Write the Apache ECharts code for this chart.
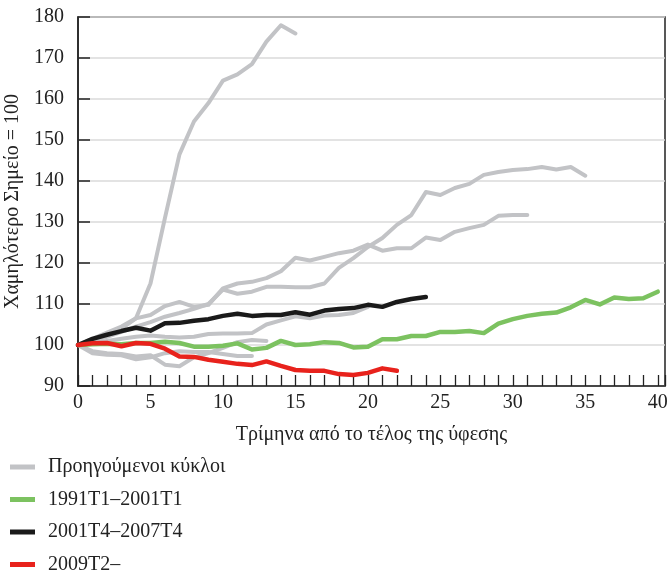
<!DOCTYPE html>
<html>
<head>
<meta charset="utf-8">
<script src="https://cdn.jsdelivr.net/npm/echarts@6/dist/echarts.min.js"></script>
<style>
  html, body { margin: 0; padding: 0; background: #fff; }
  #chart { width: 670px; height: 570px; }
</style>
</head>
<body>
<div id="chart"></div>
<script>
// legend names
const namePrev = "Προηγούμενοι κύκλοι";
const name1991 = "1991T1–2001T1";
const name2001 = "2001T4–2007T4";
const name2009 = "2009T2–";

// previous cycles (grey), value per quarter starting at 0
const prevCycleA = [100, 101, 102.5, 104, 106.5, 115, 131, 146.5, 154.5, 159, 164.5, 166, 168.5, 174, 178, 176];
const prevCycleB = [100, 101.5, 103, 104.5, 106.5, 107.3, 109.5, 110.5, 109.3, 109.8, 113.8, 115, 115.4, 116.3, 118, 121.3,
  120.6, 121.5, 122.4, 123, 124.5, 123, 123.6, 123.6, 126.2, 125.6, 127.6, 128.5, 129.3, 131.5, 131.7, 131.7];
const prevCycleC = [100, 101, 102, 103.2, 104.5, 105.6, 106.9, 107.8, 108.8, 110, 113.5, 112.5, 113, 114.2, 114.2, 114.1,
  114.1, 115, 118.8, 121.2, 123.9, 126.1, 129.3, 131.7, 137.3, 136.6, 138.3, 139.3, 141.5, 142.2, 142.7, 142.9, 143.4, 142.8, 143.4, 141.3];
const prevCycleD = [100, 100.5, 101, 101.5, 102, 102.3, 102, 101.8, 102, 102.7, 102.8, 102.8, 102.9, 105, 106, 107,
  106.5, 107.2, 107.3, 107.8, 109.3];
const prevCycleE = [100, 98.5, 98, 97.8, 97.2, 97.5, 95.2, 94.8, 97, 98, 99.3, 100.7, 101.2, 101];
const prevCycleF = [100, 98, 97.6, 97.5, 96.5, 97, 98, 98.5, 98.3, 98.3, 97.8, 97.3, 97.3];

const cycle1991 = [100, 100.2, 100.3, 100.2, 100.5, 100.5, 100.8, 100.5, 99.6, 99.6, 99.8, 100.4, 98.9, 99.3, 101, 100,
  100.2, 100.7, 100.5, 99.4, 99.6, 101.4, 101.4, 102.2, 102.2, 103.2, 103.2, 103.4, 102.9, 105.2, 106.3, 107.1, 107.6,
  107.9, 109.2, 111, 109.9, 111.6, 111.2, 111.4, 113];
const cycle2001 = [100, 101.5, 102.5, 103.4, 104.2, 103.5, 105.3, 105.4, 105.9, 106.3, 107.1, 107.6, 107.1, 107.3, 107.3,
  108, 107.4, 108.4, 108.8, 109, 109.8, 109.3, 110.5, 111.2, 111.7];
const cycle2009 = [100, 100.4, 100.5, 99.7, 100.5, 100.3, 99.1, 97.2, 97.1, 96.4, 95.9, 95.4, 95.1, 96, 94.9, 93.9, 93.7,
  93.7, 92.9, 92.7, 93.2, 94.3, 93.7];

const serifFont = "Liberation Serif";
const greyColor = "#c2c3c6";
const fontSize = 20;

function toPairs(arr) {
  return arr.map((v, i) => [i, v]);
}

function lineSeries(name, arr, color, width, z) {
  return {
    name: name,
    type: "line",
    data: toPairs(arr),
    symbol: "none",
    z: z,
    lineStyle: { color: color, width: width, join: "round", cap: "round" },
    itemStyle: { color: color },
    emphasis: { disabled: true }
  };
}

const chart = echarts.init(document.getElementById("chart"));

const series = [prevCycleA, prevCycleB, prevCycleC, prevCycleD, prevCycleE, prevCycleF]
  .map(arr => lineSeries(namePrev, arr, greyColor, 4, 2));
series.push(lineSeries(name1991, cycle1991, "#7cc260", 4.5, 3));
series.push(lineSeries(name2001, cycle2001, "#1a1a1a", 4.5, 4));
series.push(lineSeries(name2009, cycle2009, "#e8221c", 4.5, 5));

const option = {
  animation: false,
  backgroundColor: "#fff",
  grid: {
    left: 78, right: 5, top: 17, bottom: 184,
    outerBoundsMode: "none",
    show: true, borderColor: "#222", borderWidth: 1.5
  },
  legend: {
    orient: "vertical",
    left: 10,
    top: 457,
    height: 130,
    padding: 0,
    icon: "rect",
    itemWidth: 25,
    itemHeight: 5,
    itemGap: 12.5,
    data: [namePrev, name1991, name2001, name2009],
    textStyle: { fontFamily: serifFont, fontSize: fontSize, color: "#222", padding: [0, 0, 0, 8] }
  },
  xAxis: {
    type: "value",
    min: 0,
    max: 40.5,
    interval: 1,
    name: "Τρίμηνα από το τέλος της ύφεσης",
    nameLocation: "middle",
    nameGap: 39,
    nameTextStyle: { fontFamily: serifFont, fontSize: fontSize, color: "#222" },
    axisLine: { show: true, lineStyle: { color: "#222", width: 1.5 } },
    axisTick: { show: true, inside: true, length: 11, lineStyle: { color: "#222", width: 1.3 } },
    splitLine: { show: false },
    axisLabel: {
      fontFamily: serifFont, fontSize: fontSize, color: "#222", margin: 7,
      formatter: v => (v % 5 === 0 ? String(v) : "")
    }
  },
  yAxis: {
    type: "value",
    min: 90,
    max: 180,
    interval: 10,
    name: "Χαμηλότερο Σημείο = 100",
    nameLocation: "middle",
    nameGap: 55,
    nameTextStyle: { fontFamily: serifFont, fontSize: fontSize, color: "#222" },
    axisLine: { show: true, lineStyle: { color: "#222", width: 1.5 } },
    axisTick: { show: true, inside: true, length: 12, lineStyle: { color: "#222", width: 1.5 } },
    splitLine: { show: true, lineStyle: { color: "#dadada", width: 1.5 } },
    axisLabel: { fontFamily: serifFont, fontSize: fontSize, color: "#222", margin: 14 }
  },
  series: series
};

chart.setOption(option);
</script>
</body>
</html>
